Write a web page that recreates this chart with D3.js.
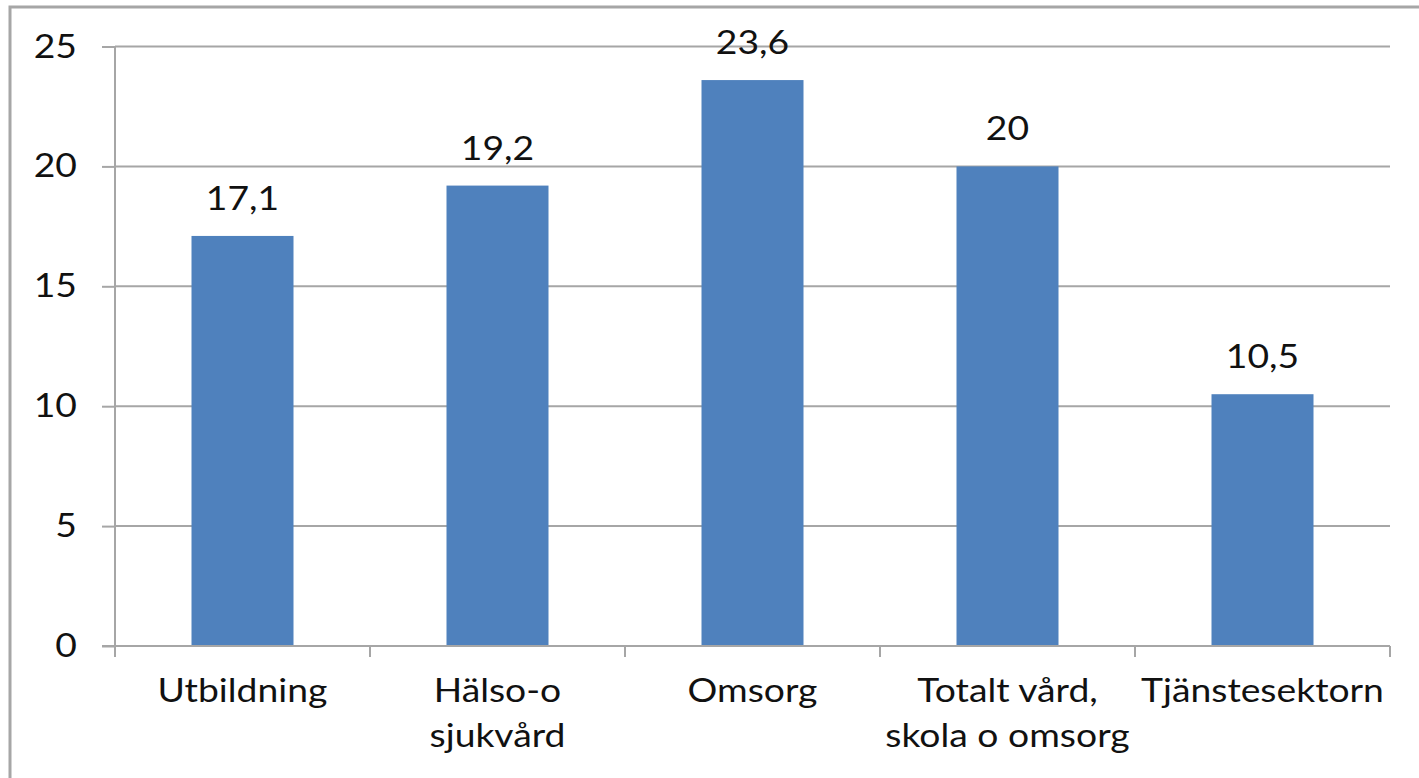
<!DOCTYPE html>
<html>
<head>
<meta charset="utf-8">
<script src="https://cdn.jsdelivr.net/npm/d3@7"></script>
<style>
  html, body { margin: 0; padding: 0; background: #fff; }
  svg text { font-family: Lato, "Noto Sans", sans-serif; fill: #111; }
</style>
</head>
<body>
<div id="chart"></div>
<script>
// data
const categories = [["Utbildning"], ["Hälso-o", "sjukvård"], ["Omsorg"], ["Totalt vård,", "skola o omsorg"], ["Tjänstesektorn"]];
const values = [17.1, 19.2, 23.6, 20, 10.5];
const valueLabels = ["17,1", "19,2", "23,6", "20", "10,5"];
const yTicks = [0, 5, 10, 15, 20, 25];

const width = 1419, height = 778;
const margin = { left: 115, right: 29, top: 46.5, bottom: 132 };
const fontSize = 33;
const stretch = 1.13; // reference font runs wider than Lato

const svg = d3.select("#chart").append("svg")
    .attr("width", width)
    .attr("height", height);

// outer frame (only top and left edges visible in the crop)
svg.append("path")
    .attr("d", `M10,${height + 5} L10,7 L${width + 5},7`)
    .attr("fill", "none")
    .attr("stroke", "#a6a6a6")
    .attr("stroke-width", 3);

const x = d3.scaleBand()
    .domain(d3.range(values.length))
    .range([margin.left, width - margin.right])
    .paddingInner(0.6)
    .paddingOuter(0.3);

const xOuter = d3.scaleBand()
    .domain(d3.range(values.length))
    .range([margin.left, width - margin.right]);

const y = d3.scaleLinear()
    .domain([0, 25])
    .range([height - margin.bottom, margin.top]);

// gridlines
svg.append("g")
    .selectAll("line")
    .data(yTicks.filter(d => d > 0))
    .join("line")
    .attr("x1", margin.left)
    .attr("x2", width - margin.right)
    .attr("y1", d => y(d))
    .attr("y2", d => y(d))
    .attr("stroke", "#a6a6a6")
    .attr("stroke-width", 2);

// bars
svg.append("g")
    .selectAll("rect")
    .data(values)
    .join("rect")
    .attr("x", (d, i) => x(i))
    .attr("width", x.bandwidth())
    .attr("y", d => y(d))
    .attr("height", d => y(0) - y(d))
    .attr("fill", "#4f81bd");

// value labels
svg.append("g")
    .selectAll("text")
    .data(values)
    .join("text")
    .attr("transform", (d, i) => `translate(${x(i) + x.bandwidth() / 2},${y(d) - 26}) scale(${stretch},1)`)
    .attr("text-anchor", "middle")
    .attr("font-size", fontSize)
    .text((d, i) => valueLabels[i]);

// y axis
const yAxis = svg.append("g")
    .attr("transform", `translate(${margin.left},0)`)
    .call(d3.axisLeft(y).tickValues(yTicks).tickSize(13).tickPadding(24));
yAxis.select(".domain").attr("d", `M0,${y(25)}V${y(0) + 11}`);
yAxis.selectAll("line, .domain").attr("stroke", "#a6a6a6").attr("stroke-width", 2);
yAxis.selectAll("text")
    .attr("font-size", fontSize)
    .attr("fill", "#111")
    .attr("x", 0)
    .attr("transform", `translate(-38,0) scale(${stretch},1)`);

// x axis
const xAxisG = svg.append("g")
    .attr("transform", `translate(0,${y(0)})`);
xAxisG.append("line")
    .attr("x1", margin.left - 13)
    .attr("x2", width - margin.right)
    .attr("stroke", "#a6a6a6")
    .attr("stroke-width", 2);
xAxisG.selectAll(".tick")
    .data(d3.range(values.length + 1))
    .join("line")
    .attr("class", "tick")
    .attr("x1", i => i < values.length ? xOuter(i) : width - margin.right)
    .attr("x2", i => i < values.length ? xOuter(i) : width - margin.right)
    .attr("y1", 0)
    .attr("y2", 11)
    .attr("stroke", "#a6a6a6")
    .attr("stroke-width", 2);

const catText = xAxisG.selectAll("text")
    .data(categories)
    .join("text")
    .attr("text-anchor", "middle")
    .attr("font-size", fontSize)
    .attr("transform", (d, i) => `translate(${xOuter(i) + xOuter.bandwidth() / 2},56) scale(${stretch},1)`);
catText.selectAll("tspan")
    .data(d => d)
    .join("tspan")
    .attr("x", 0)
    .attr("y", (d, i) => i * 45)
    .text(d => d);
</script>
</body>
</html>
